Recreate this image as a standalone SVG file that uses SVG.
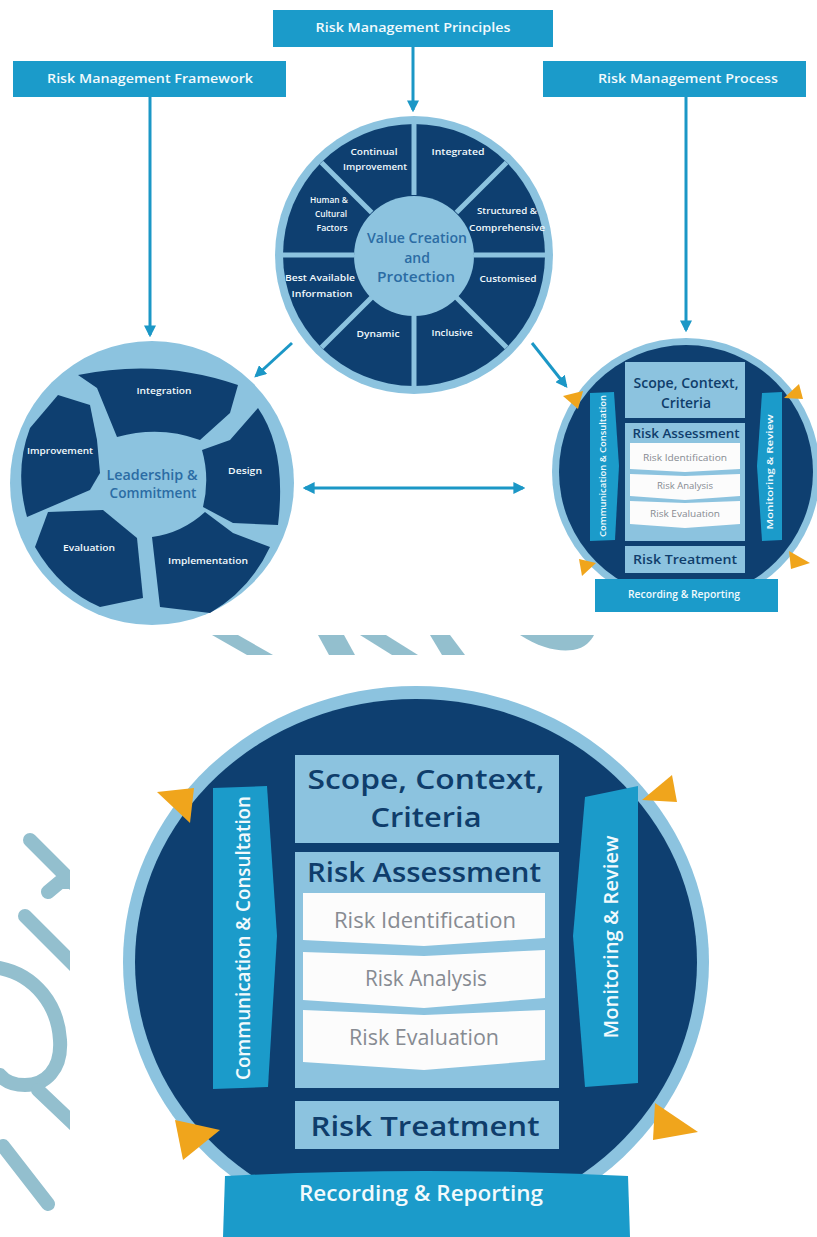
<svg xmlns="http://www.w3.org/2000/svg" width="817" height="1237" viewBox="0 0 817 1237">
<defs>
<style>
.nv{fill:#0e3f70}
.lb{fill:#8cc3df}
.cy{fill:#1b9bca}
.or{fill:#f0a51c}
.wt{fill:#fcfcfc}
.wm{fill:#93bfce}
.wms{stroke:#93bfce;fill:none;stroke-linecap:round;stroke-linejoin:round}
text{font-family:"Open Sans","Liberation Sans",sans-serif;text-anchor:middle}
.w{fill:#f2fafd;font-weight:600}
.n{fill:#0f3d6b;font-weight:600}
.g{fill:#878b92;font-weight:400}
.c{fill:#2b6ca4;font-weight:600}
.dv{stroke:#8cc3df;stroke-width:5}
.arr{stroke:#1b97c6;stroke-width:3;fill:none}
</style>
<marker id="ah" viewBox="0 0 10 10" refX="8" refY="5" markerWidth="4" markerHeight="4" orient="auto-start-reverse">
<path d="M0,0 L10,5 L0,10 z" fill="#1b97c6"/>
</marker>
<clipPath id="clipLeft"><rect x="0" y="820" width="70" height="400"/></clipPath>
<clipPath id="clipTop"><rect x="180" y="635" width="450" height="20"/></clipPath>
</defs>
<rect width="817" height="1237" fill="#ffffff"/>

<!-- watermark fragments -->
<g id="watermark">
<g clip-path="url(#clipTop)">
<polygon class="wm" points="212,635 238,635 273,655 247,655"/>
<polygon class="wm" points="318,635 344,635 355,655 329,655"/>
<polygon class="wm" points="360,635 386,635 418,655 392,655"/>
<polygon class="wm" points="430,635 450,635 465,655 442,655"/>
<path class="wm" d="M520,635 C540,648 558,652 573,650 C585,648 591,641 594,635 Z"/>
</g>
<g clip-path="url(#clipLeft)">
<path class="wms" stroke-width="14" d="M30,840 L75,885"/>
<path class="wms" stroke-width="14" d="M48,892 L60,882 L75,882"/>
<path class="wms" stroke-width="14" d="M25,916 L75,966"/>
<path class="wms" stroke-width="14" d="M0,968 C35,975 58,1005 60,1040 C62,1070 45,1085 25,1085 C12,1085 4,1080 0,1075"/>
<path class="wms" stroke-width="14" d="M38,1090 L78,1128"/>
<path class="wms" stroke-width="14" d="M3,1146 L48,1204"/>
</g>
</g>

<!-- top boxes -->
<g id="principles-box">
<rect class="cy" x="273" y="10" width="280" height="37"/>
<text class="w" x="413" y="32" font-size="12" textLength="195" lengthAdjust="spacingAndGlyphs">Risk Management Principles</text>
</g>
<g id="framework-box">
<rect class="cy" x="13" y="61" width="273" height="36"/>
<text class="w" x="150" y="83" font-size="12" textLength="206" lengthAdjust="spacingAndGlyphs">Risk Management Framework</text>
</g>
<g id="process-box">
<rect class="cy" x="543" y="61" width="263" height="36"/>
<text class="w" x="688" y="83" font-size="12" textLength="180" lengthAdjust="spacingAndGlyphs">Risk Management Process</text>
</g>

<!-- connectors -->
<g id="connectors">
<line class="arr" x1="413" y1="47" x2="413" y2="110" marker-end="url(#ah)"/>
<line class="arr" x1="150" y1="97" x2="150" y2="335" marker-end="url(#ah)"/>
<line class="arr" x1="686" y1="97" x2="686" y2="330" marker-end="url(#ah)"/>
<line class="arr" x1="292" y1="343" x2="256" y2="376" marker-end="url(#ah)"/>
<line class="arr" x1="532" y1="343" x2="566" y2="386" marker-end="url(#ah)"/>
<line class="arr" x1="305" y1="488" x2="523" y2="488" marker-start="url(#ah)" marker-end="url(#ah)"/>
</g>

<!-- principles wheel -->
<g id="principles-wheel">
<circle class="lb" cx="414" cy="255" r="139"/>
<circle class="nv" cx="414" cy="255" r="131"/>
<line class="dv" x1="414" y1="315" x2="414" y2="386"/>
<line class="dv" x1="414" y1="195" x2="414" y2="124"/>
<line class="dv" x1="474" y1="255" x2="545" y2="255"/>
<line class="dv" x1="354" y1="255" x2="283" y2="255"/>
<line class="dv" x1="456.4" y1="297.4" x2="506.6" y2="347.6"/>
<line class="dv" x1="371.6" y1="297.4" x2="321.4" y2="347.6"/>
<line class="dv" x1="371.6" y1="212.6" x2="321.4" y2="162.4"/>
<line class="dv" x1="456.4" y1="212.6" x2="506.6" y2="162.4"/>
<circle class="lb" cx="414" cy="256" r="60"/>
<text class="w" font-size="9.5" x="374" y="155" textLength="47" lengthAdjust="spacingAndGlyphs">Continual</text>
<text class="w" font-size="9.5" x="375" y="170" textLength="64" lengthAdjust="spacingAndGlyphs">Improvement</text>
<text class="w" font-size="9.5" x="458" y="155" textLength="53" lengthAdjust="spacingAndGlyphs">Integrated</text>
<text class="w" font-size="9.5" x="329" y="203" textLength="38" lengthAdjust="spacingAndGlyphs">Human &amp;</text>
<text class="w" font-size="9.5" x="331" y="217" textLength="32" lengthAdjust="spacingAndGlyphs">Cultural</text>
<text class="w" font-size="9.5" x="332" y="231" textLength="31" lengthAdjust="spacingAndGlyphs">Factors</text>
<text class="w" font-size="9.5" x="507" y="214" textLength="60" lengthAdjust="spacingAndGlyphs">Structured &amp;</text>
<text class="w" font-size="9.5" x="507" y="231" textLength="76" lengthAdjust="spacingAndGlyphs">Comprehensive</text>
<text class="w" font-size="9.5" x="320" y="281" textLength="70" lengthAdjust="spacingAndGlyphs">Best Available</text>
<text class="w" font-size="9.5" x="322" y="297" textLength="61" lengthAdjust="spacingAndGlyphs">Information</text>
<text class="w" font-size="9.5" x="508" y="282" textLength="57" lengthAdjust="spacingAndGlyphs">Customised</text>
<text class="w" font-size="9.5" x="378" y="337" textLength="43" lengthAdjust="spacingAndGlyphs">Dynamic</text>
<text class="w" font-size="9.5" x="452" y="336" textLength="41" lengthAdjust="spacingAndGlyphs">Inclusive</text>
<text class="c" font-size="14" x="417" y="243" textLength="100" lengthAdjust="spacingAndGlyphs">Value Creation</text>
<text class="c" font-size="14" x="417" y="263">and</text>
<text class="c" font-size="14" x="416" y="282" textLength="78" lengthAdjust="spacingAndGlyphs">Protection</text>
</g>

<!-- framework wheel -->
<g id="framework-wheel">
<circle class="lb" cx="152" cy="483" r="142"/>
<path class="nv" d="M78,375 Q160,358 238,385 L230,413 L200,440 Q160,425 117,437 L97,388 Z"/>
<path class="nv" d="M258,408 Q287,450 278,525 L233,523 L203,507 Q210,478 202,450 L230,440 Z"/>
<path class="nv" d="M205,512 L233,533 L270,547 Q250,590 210,613 L160,607 L152,537 Q182,533 205,512 Z"/>
<path class="nv" d="M48,512 L103,510 L137,538 L143,598 L100,607 Q60,590 35,547 Z"/>
<path class="nv" d="M58,395 L90,405 L97,440 L100,473 L90,490 L27,517 Q14,470 30,428 Z"/>
<text class="w" font-size="9.5" x="164" y="394" textLength="55" lengthAdjust="spacingAndGlyphs">Integration</text>
<text class="w" font-size="9.5" x="60" y="454" textLength="66" lengthAdjust="spacingAndGlyphs">Improvement</text>
<text class="w" font-size="9.5" x="245" y="474" textLength="34" lengthAdjust="spacingAndGlyphs">Design</text>
<text class="w" font-size="9.5" x="89" y="551" textLength="52" lengthAdjust="spacingAndGlyphs">Evaluation</text>
<text class="w" font-size="9.5" x="208" y="564" textLength="80" lengthAdjust="spacingAndGlyphs">Implementation</text>
<text class="c" font-size="14" x="152" y="480" textLength="91" lengthAdjust="spacingAndGlyphs">Leadership &amp;</text>
<text class="c" font-size="14" x="153" y="498" textLength="87" lengthAdjust="spacingAndGlyphs">Commitment</text>
</g>

<!-- small process wheel -->
<g id="process-small">
<circle class="lb" cx="686" cy="472" r="134"/>
<circle class="nv" cx="686" cy="472" r="127"/>
<polygon class="or" points="563,396 583,391 578,409"/>
<polygon class="or" points="784,398 799,384 803,399"/>
<polygon class="or" points="579,559 596,563 582,576"/>
<polygon class="or" points="789,551 810,563 791,569"/>
<polygon class="cy" points="590,393 614,392 619,466 615,540 590,541"/>
<text class="w" font-size="9" transform="translate(606,466) rotate(-90)" textLength="142" lengthAdjust="spacingAndGlyphs">Communication &amp; Consultation</text>
<polygon class="cy" points="762,393 782,392 782,540 762,541 757,466"/>
<text class="w" font-size="9" transform="translate(773,472) rotate(-90)" textLength="115" lengthAdjust="spacingAndGlyphs">Monitoring &amp; Review</text>
<rect class="lb" x="625" y="362" width="120" height="56"/>
<text class="n" font-size="13.5" x="686" y="388" textLength="105" lengthAdjust="spacingAndGlyphs">Scope, Context,</text>
<text class="n" font-size="13.5" x="686" y="408" textLength="50" lengthAdjust="spacingAndGlyphs">Criteria</text>
<rect class="lb" x="625" y="423" width="120" height="118"/>
<text class="n" font-size="13" x="686" y="438" textLength="107" lengthAdjust="spacingAndGlyphs">Risk Assessment</text>
<polygon class="wt" points="630,443 740,443 740,469 685,472 630,469"/>
<polygon class="wt" points="630,474 685,476 740,474 740,496 685,500 630,496"/>
<polygon class="wt" points="630,501 685,503 740,501 740,524 685,528 630,524"/>
<text class="g" font-size="8.5" x="685" y="461" textLength="84" lengthAdjust="spacingAndGlyphs">Risk Identification</text>
<text class="g" font-size="8.5" x="685" y="489" textLength="56" lengthAdjust="spacingAndGlyphs">Risk Analysis</text>
<text class="g" font-size="8.5" x="685" y="517" textLength="70" lengthAdjust="spacingAndGlyphs">Risk Evaluation</text>
<rect class="lb" x="625" y="546" width="120" height="27"/>
<text class="n" font-size="13" x="685" y="564" textLength="104" lengthAdjust="spacingAndGlyphs">Risk Treatment</text>
<rect class="cy" x="595" y="579" width="183" height="33"/>
<text class="w" font-size="10" x="684" y="598" textLength="112" lengthAdjust="spacingAndGlyphs">Recording &amp; Reporting</text>
</g>

<!-- large process wheel -->
<g id="process-large">
<ellipse class="lb" cx="416" cy="962" rx="293" ry="276"/>
<ellipse class="nv" cx="416" cy="962" rx="281" ry="263"/>
<polygon class="or" points="157,792 194,788 190,823"/>
<polygon class="or" points="642,800 672,775 677,802"/>
<polygon class="or" points="175,1120 220,1130 183,1160"/>
<polygon class="or" points="655,1103 698,1132 653,1140"/>
<g id="comm-consult">
<polygon class="cy" points="213,788 267,786 277,936 268,1087 213,1089"/>
<text class="w" font-size="20" transform="translate(250,938) rotate(-90)" textLength="284" lengthAdjust="spacingAndGlyphs">Communication &amp; Consultation</text>
</g>
<g id="monitor-review">
<polygon class="cy" points="585,797 638,786 638,1083 585,1087 573,936"/>
<text class="w" font-size="20" transform="translate(618,937) rotate(-90)" textLength="203" lengthAdjust="spacingAndGlyphs">Monitoring &amp; Review</text>
</g>
<g id="scope">
<rect class="lb" x="295" y="755" width="264" height="88"/>
<text class="n" font-size="27" x="426" y="789" textLength="237" lengthAdjust="spacingAndGlyphs">Scope, Context,</text>
<text class="n" font-size="27" x="426" y="827" textLength="111" lengthAdjust="spacingAndGlyphs">Criteria</text>
</g>
<g id="assessment">
<rect class="lb" x="295" y="852" width="264" height="236"/>
<text class="n" font-size="27" x="424" y="882" textLength="234" lengthAdjust="spacingAndGlyphs">Risk Assessment</text>
<polygon class="wt" points="303,893 545,893 545,938 424,946 303,940"/>
<polygon class="wt" points="303,952 424,956 545,950 545,998 424,1008 303,1000"/>
<polygon class="wt" points="303,1010 424,1015 545,1010 545,1060 424,1070 303,1062"/>
<text class="g" font-size="21" x="425" y="928" textLength="182" lengthAdjust="spacingAndGlyphs">Risk Identification</text>
<text class="g" font-size="21" x="426" y="986" textLength="122" lengthAdjust="spacingAndGlyphs">Risk Analysis</text>
<text class="g" font-size="21" x="424" y="1045" textLength="150" lengthAdjust="spacingAndGlyphs">Risk Evaluation</text>
</g>
<g id="treatment">
<rect class="lb" x="295" y="1101" width="264" height="48"/>
<text class="n" font-size="27" x="425" y="1136" textLength="229" lengthAdjust="spacingAndGlyphs">Risk Treatment</text>
</g>
<g id="recording">
<path class="cy" d="M225,1176 Q426,1166 628,1176 L630,1237 L223,1237 Z"/>
<text class="w" font-size="21" x="421" y="1201" textLength="244" lengthAdjust="spacingAndGlyphs">Recording &amp; Reporting</text>
</g>
</g>
</svg>
